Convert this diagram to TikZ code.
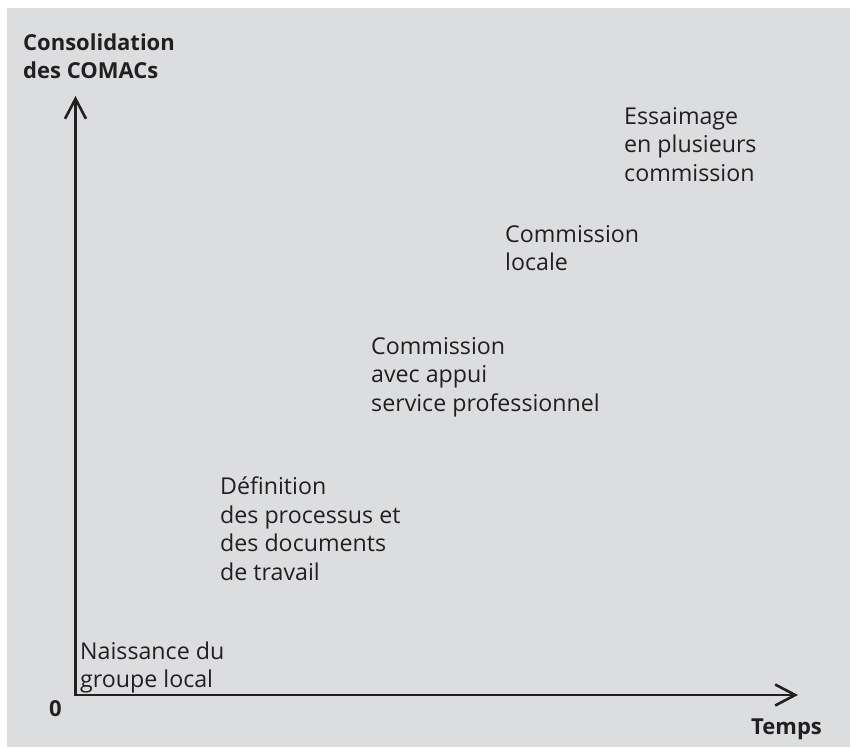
\documentclass[tikz,border=0pt]{standalone}
\usepackage{fontspec}
\setmainfont{Open Sans}
\usetikzlibrary{arrows.meta}
\definecolor{bggray}{HTML}{DCDDDE}
\definecolor{ink}{HTML}{231F20}
\newcommand{\stacklines}[2][28.5pt]{\vtop{\baselineskip=#1\halign{##\hfil\cr#2\crcr}}}
\tikzset{
  lbl/.style={anchor=base west, inner sep=0pt, text=ink, font=\fontsize{23.2}{28.5}\selectfont},
  boldlbl/.style={anchor=base west, inner sep=0pt, text=ink, font=\fontsize{22}{28}\selectfont\bfseries},
  axis/.style={draw=ink, line width=2.6pt, {Straight Barb[length=20pt,width=21pt]}-{Straight Barb[length=20pt,width=21pt]}}
}
\begin{document}
\begin{tikzpicture}[x=1pt,y=-1pt]
\useasboundingbox (0,0) rectangle (850,747);
\fill[bggray] (7,8) rectangle (850,747);
\coordinate (O) at (75.5,695);
\coordinate (ytip) at (75.5,96);
\coordinate (xtip) at (798,695);
\draw[axis] (ytip) -- (O) -- (xtip);
\node[boldlbl] (ylab) at (23,50) {\stacklines[28pt]{Consolidation\cr des COMACs}};
\node[boldlbl] (zero) at (49,716) {0};
\node[boldlbl] (xlab) at (751,734) {Temps};
\node[lbl] (s1) at (80,659) {\stacklines{Naissance du\cr groupe local}};
\node[lbl] (s2) at (220,494.5) {\stacklines{Définition\cr des processus et\cr des documents\cr de travail}};
\node[lbl] (s3) at (371,354) {\stacklines{Commission\cr avec appui\cr service professionnel}};
\node[lbl] (s4) at (505,242) {\stacklines{Commission\cr locale}};
\node[lbl] (s5) at (624,124) {\stacklines{Essaimage\cr en plusieurs\cr commission}};
\end{tikzpicture}
\end{document}
